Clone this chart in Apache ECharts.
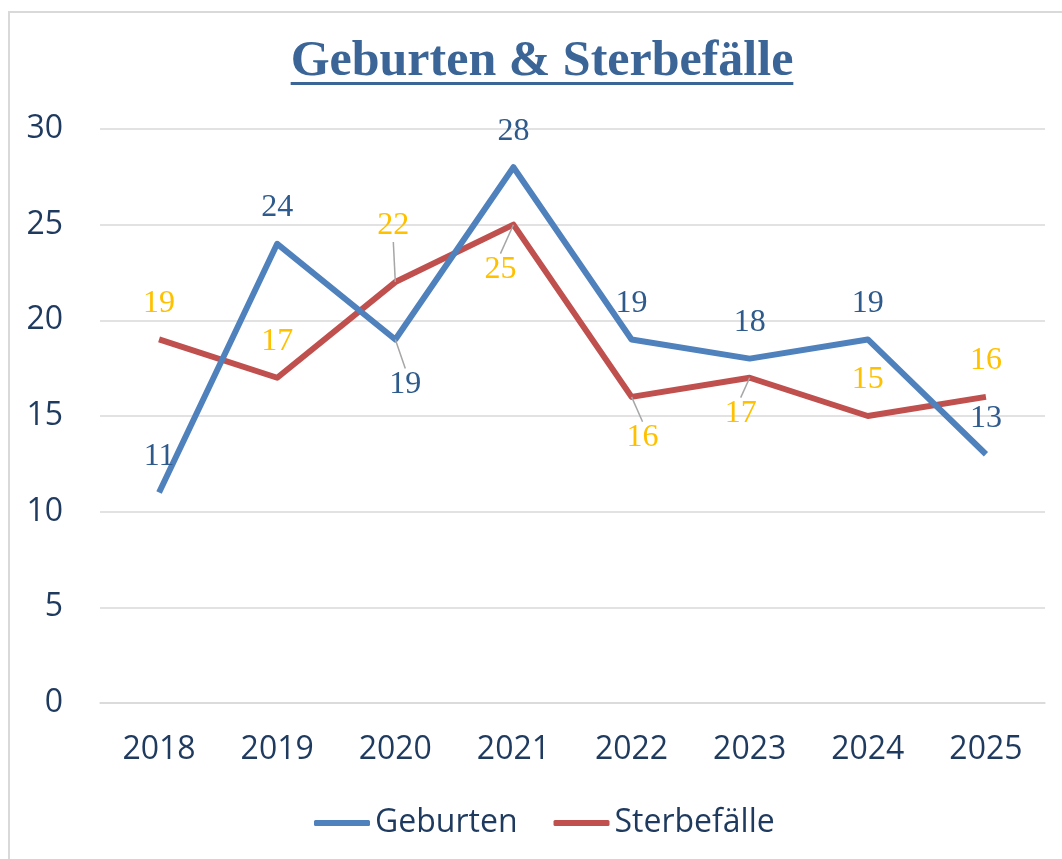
<!DOCTYPE html>
<html>
<head>
<meta charset="utf-8">
<script src="https://cdn.jsdelivr.net/npm/echarts@6/dist/echarts.min.js"></script>
<style>html,body{margin:0;padding:0;background:#fff}#c{width:1062px;height:859px}</style>
</head>
<body>
<div id="c"></div>
<script>
const categories = ['2018','2019','2020','2021','2022','2023','2024','2025'];
const geburten = [11, 24, 19, 28, 19, 18, 19, 13];
const sterbefaelle = [19, 17, 22, 25, 16, 17, 15, 16];
const yTicks = {min: 0, max: 30, interval: 5};

// label nudges (dx, dy) relative to the default "top" placement, by data index
const gebMoves = {2: [10, 81]};
const sterbMoves = {2: [-2, -20], 3: [-13, 81], 4: [11, 77], 5: [-9, 72]};

const titleText = 'Geburten & Sterbefälle';
const titleSize = 50;
const titleFont = 'bold ' + titleSize + 'px "Liberation Serif"';
const cv = document.createElement('canvas').getContext('2d');
cv.font = titleFont;
const titleW = cv.measureText(titleText).width;
const titleCenter = 542;

function dataWithLines(vals, moves){
  return vals.map((v,i)=> ({value: v, labelLine: {show: !!moves[i]}}));
}

const chart = echarts.init(document.getElementById('c'), null, {renderer: 'canvas'});
chart.setOption({
  animation: false,
  backgroundColor: '#fff',
  title: {
    text: titleText, left: titleCenter - titleW/2, top: 37, padding: 0,
    textStyle: {fontFamily: 'Liberation Serif', fontWeight: 'bold', fontSize: titleSize, color: '#3A6596'}
  },
  graphic: [
    {type: 'rect', shape: {x: 9, y: 12, width: 1200, height: 1000}, style: {fill: 'none', stroke: '#D9D9D9', lineWidth: 2}, silent: true},
    {type: 'rect', shape: {x: titleCenter - titleW/2, y: 82, width: titleW, height: 3}, style: {fill: '#3A6596'}, silent: true}
  ],
  grid: {left: 100, right: 17, top: 129, bottom: 156},
  legend: {
    bottom: 20, left: 314, padding: 0, itemWidth: 56, itemHeight: 6, itemGap: 36,
    icon: 'roundRect',
    textStyle: {fontFamily: 'Open Sans', fontSize: 32, color: '#1F3A5F'},
    data: ['Geburten', 'Sterbefälle']
  },
  xAxis: {
    type: 'category', data: categories, boundaryGap: true,
    axisLine: {show: true, lineStyle: {color: '#D9D9D9', width: 1.5}},
    axisTick: {show: false},
    axisLabel: {margin: 31, fontFamily: 'Open Sans', fontSize: 32, color: '#1F3A5F'}
  },
  yAxis: {
    type: 'value', min: yTicks.min, max: yTicks.max, interval: yTicks.interval,
    axisLine: {show: false}, axisTick: {show: false},
    splitLine: {lineStyle: {color: '#D9D9D9', width: 1.5}},
    axisLabel: {margin: 37, fontFamily: 'Open Sans', fontSize: 32, color: '#1F3A5F'}
  },
  series: [
    {
      name: 'Geburten', type: 'line', data: dataWithLines(geburten, gebMoves),
      symbol: 'circle', symbolSize: 0.1, showSymbol: true,
      lineStyle: {color: '#4F81BD', width: 6, join: 'round'},
      itemStyle: {color: '#4F81BD'},
      label: {show: true, position: 'top', distance: 20, fontFamily: 'Liberation Serif', fontSize: 32, color: '#2E5A8C'},
      labelLine: {show: false, lineStyle: {color: '#A6A6A6', width: 1.5}},
      labelLayout: function(p){ const m = gebMoves[p.dataIndex]; return m ? {dx: m[0], dy: m[1]} : {}; },
      z: 3
    },
    {
      name: 'Sterbefälle', type: 'line', data: dataWithLines(sterbefaelle, sterbMoves),
      symbol: 'circle', symbolSize: 0.1, showSymbol: true,
      lineStyle: {color: '#C0504D', width: 6, join: 'round'},
      itemStyle: {color: '#C0504D'},
      label: {show: true, position: 'top', distance: 20, fontFamily: 'Liberation Serif', fontSize: 32, color: '#FFC000'},
      labelLine: {show: false, lineStyle: {color: '#A6A6A6', width: 1.5}},
      labelLayout: function(p){ const m = sterbMoves[p.dataIndex]; return m ? {dx: m[0], dy: m[1]} : {}; },
      z: 2
    }
  ]
});
</script>
</body>
</html>
